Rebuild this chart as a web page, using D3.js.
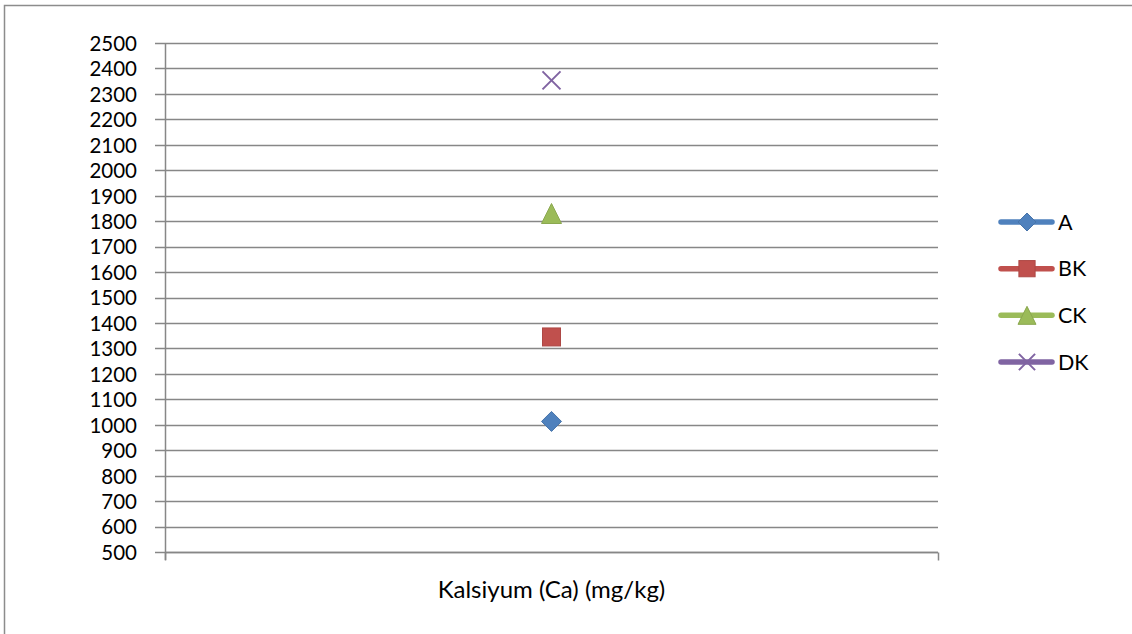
<!DOCTYPE html>
<html>
<head>
<meta charset="utf-8">
<script src="https://cdn.jsdelivr.net/npm/d3@7"></script>
<style>
  html, body { margin: 0; padding: 0; background: #fff; }
  svg { display: block; font-family: Lato, "Open Sans", sans-serif; }
</style>
</head>
<body>
<svg id="chart" width="1132" height="634"></svg>
<script>
// Calcium content per sample group
const categories = ["Kalsiyum (Ca) (mg/kg)"];
const seriesNames = ["A", "BK", "CK", "DK"];
const seriesValues = [1013, 1345, 1830, 2353];
const seriesColors = ["#4F81BD", "#C0504D", "#9BBB59", "#8064A2"];
const seriesSymbols = ["diamond", "square", "triangle", "cross"];
const yTicks = d3.range(500, 2501, 100);

const svg = d3.select("#chart");
const W = 1132, H = 634;

// chart frame (runs past the right and bottom edges)
svg.append("rect")
  .attr("x", 4.5).attr("y", 5.5)
  .attr("width", W + 10).attr("height", H + 10)
  .attr("fill", "#fff").attr("stroke", "#8c8c8c").attr("stroke-width", 1.5);

const plot = { left: 165, right: 938, top: 43, bottom: 552 };

const y = d3.scaleLinear().domain([500, 2500]).range([plot.bottom, plot.top]);
const x = d3.scaleBand().domain(categories).range([plot.left, plot.right]);

const gridColor = "#878787";

// horizontal gridlines with outer ticks
svg.append("g")
  .selectAll("line")
  .data(yTicks)
  .join("line")
  .attr("x1", plot.left - 10).attr("x2", plot.right)
  .attr("y1", d => Math.round(y(d)) + 0.5).attr("y2", d => Math.round(y(d)) + 0.5)
  .attr("stroke", gridColor).attr("stroke-width", 1.3);

// value axis
const yAxis = d3.axisLeft(y).tickValues(yTicks).tickFormat(d3.format("d")).tickSize(0).tickPadding(0);
const yg = svg.append("g").attr("transform", `translate(${plot.left - 28},0)`).call(yAxis);
yg.attr("font-family", null).attr("font-size", null);
yg.select(".domain").remove();
yg.selectAll("text").attr("font-size", 20.5).attr("fill", "#000").attr("dy", "0.36em");

svg.append("line")
  .attr("x1", plot.left + 0.5).attr("x2", plot.left + 0.5)
  .attr("y1", plot.top).attr("y2", plot.bottom + 8)
  .attr("stroke", gridColor).attr("stroke-width", 1.5);

// category axis
const xg = svg.append("g").attr("transform", `translate(0,${Math.round(plot.bottom) + 0.5})`);
xg.append("line")
  .attr("x1", plot.left).attr("x2", plot.right)
  .attr("stroke", gridColor).attr("stroke-width", 1.5);
xg.selectAll("line.tick")
  .data([x.range()[0], x.range()[1]])
  .join("line").attr("class", "tick")
  .attr("x1", d => d + 0.5).attr("x2", d => d + 0.5)
  .attr("y1", 0).attr("y2", 8)
  .attr("stroke", gridColor).attr("stroke-width", 1.5);
xg.selectAll("text")
  .data(categories)
  .join("text")
  .attr("x", d => x(d) + x.bandwidth() / 2)
  .attr("y", 45)
  .attr("text-anchor", "middle")
  .attr("font-size", 24)
  .attr("fill", "#000")
  .text(d => d);

// marker shapes
function marker(g, kind, color, size) {
  const h = size / 2;
  if (kind === "diamond") {
    g.append("path").attr("d", `M0,${-h}L${h},0L0,${h}L${-h},0Z`)
      .attr("fill", color).attr("stroke", d3.color(color).darker(0.3)).attr("stroke-width", 1);
  } else if (kind === "square") {
    const s = size * 0.9;
    g.append("rect").attr("x", -s / 2).attr("y", -s / 2).attr("width", s).attr("height", s)
      .attr("fill", color).attr("stroke", d3.color(color).darker(0.3)).attr("stroke-width", 1);
  } else if (kind === "triangle") {
    g.append("path").attr("d", `M0,${-h}L${h},${h}L${-h},${h}Z`)
      .attr("fill", color).attr("stroke", d3.color(color).darker(0.3)).attr("stroke-width", 1);
  } else {
    const c = size * 0.45;
    g.append("path").attr("d", `M${-c},${-c}L${c},${c}M${-c},${c}L${c},${-c}`)
      .attr("stroke", color).attr("stroke-width", 2).attr("fill", "none");
  }
}

// data points
const cx = x(categories[0]) + x.bandwidth() / 2;
seriesValues.forEach((v, i) => {
  const g = svg.append("g").attr("transform", `translate(${cx},${y(v)})`);
  marker(g, seriesSymbols[i], seriesColors[i], 20);
});

// legend
const legendY = d3.scalePoint().domain(seriesNames).range([222, 362]);
seriesNames.forEach((name, i) => {
  const g = svg.append("g").attr("transform", `translate(0,${legendY(name)})`);
  g.append("line").attr("x1", 1001).attr("x2", 1052).attr("y1", 0).attr("y2", 0)
    .attr("stroke", seriesColors[i]).attr("stroke-width", 5.5).attr("stroke-linecap", "round");
  const m = g.append("g").attr("transform", "translate(1027,0)");
  marker(m, seriesSymbols[i], seriesColors[i], 18);
  g.append("text").attr("x", 1058).attr("y", 0).attr("dy", "0.36em")
    .attr("font-size", 21.5).attr("fill", "#000").text(name);
});
</script>
</body>
</html>
